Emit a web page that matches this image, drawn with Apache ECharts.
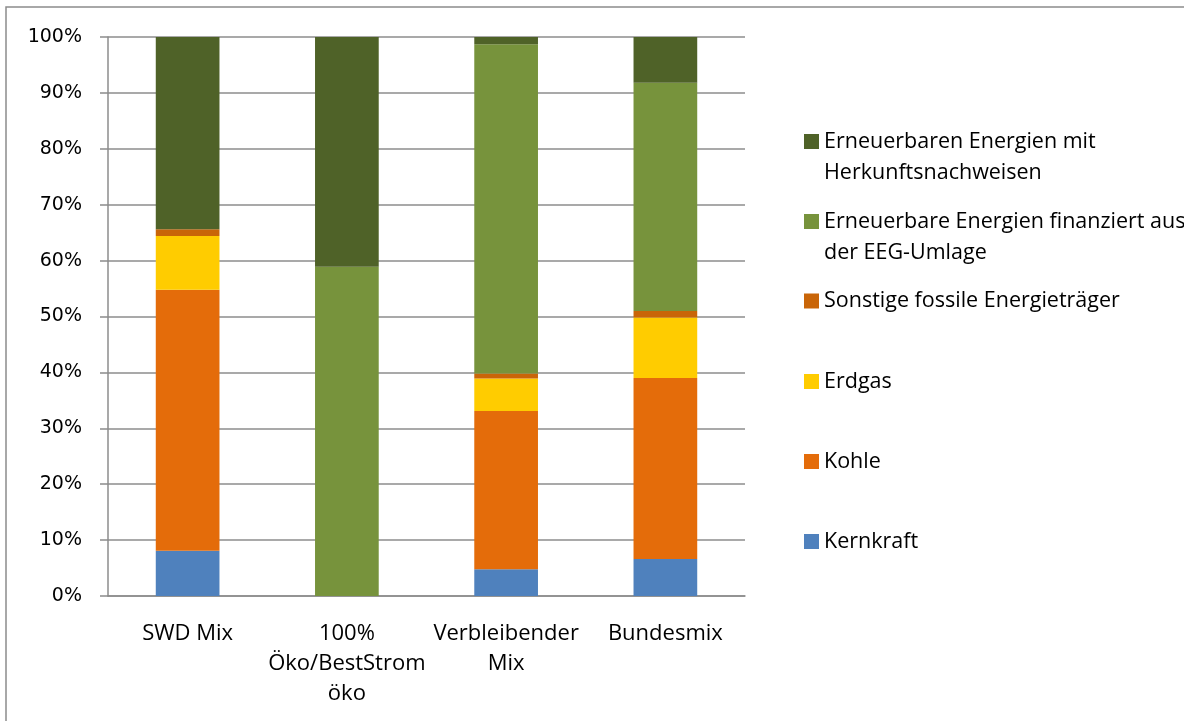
<!DOCTYPE html>
<html>
<head>
<meta charset="utf-8">
<script src="https://cdn.jsdelivr.net/npm/echarts@6/dist/echarts.min.js"></script>
<style>
  html, body { margin: 0; padding: 0; background: #fff; }
  #chart { width: 1184px; height: 721px; }
</style>
</head>
<body>
<div id="chart"></div>
<script>
// Kategorien (x-Achse)
const categories = ['SWD Mix', '100%\nÖko/BestStrom\nöko', 'Verbleibender\nMix', 'Bundesmix'];
const yTicks = [0, 10, 20, 30, 40, 50, 60, 70, 80, 90, 100];

// Anteile in %, von unten nach oben gestapelt
const kernkraft = [8.1, 0, 4.8, 6.6];
const kohle = [46.7, 0, 28.3, 32.4];
const erdgas = [9.6, 0, 5.8, 10.8];
const sonstige = [1.2, 0, 0.9, 1.2];
const eeg = [0, 58.9, 58.9, 40.8];
const hkn = [34.4, 41.1, 1.3, 8.2];

const names = {
  kernkraft: 'Kernkraft',
  kohle: 'Kohle',
  erdgas: 'Erdgas',
  sonstige: 'Sonstige fossile Energieträger',
  eeg: 'Erneuerbare Energien finanziert aus\nder EEG-Umlage',
  hkn: 'Erneuerbaren Energien mit\nHerkunftsnachweisen'
};

const colors = {
  kernkraft: '#4f81bd',
  kohle: '#e46c0a',
  erdgas: '#ffcc00',
  sonstige: '#c96508',
  eeg: '#77933c',
  hkn: '#4f6228'
};

const labelFont = '"Open Sans", "Noto Sans", sans-serif';

const bar = (key, data) => ({
  name: names[key],
  type: 'bar',
  stack: 'mix',
  barWidth: '40%',
  data,
  itemStyle: { color: colors[key] }
});

// eine Legende pro Eintrag, damit die Abstände wie im Original sind
// zweizeilige Einträge: leere Zeile davor, damit das Kästchen auf Höhe der ersten Zeile steht
const legendItem = (key, top, twoLines) => ({
  data: [names[key]],
  left: 804,
  top,
  padding: 0,
  itemWidth: 15,
  itemHeight: 15,
  icon: 'rect',
  selectedMode: false,
  formatter: (name) => (twoLines ? '\n' + name : name),
  textStyle: {
    fontFamily: labelFont,
    fontSize: 21.5,
    color: '#000',
    lineHeight: 31
  }
});

const chart = echarts.init(document.getElementById('chart'));

chart.setOption({
  backgroundColor: '#fff',
  animation: false,
  graphic: [{
    type: 'rect',
    shape: { x: 6, y: 7, width: 1300, height: 900 },
    style: { fill: 'none', stroke: '#8c8c8c', lineWidth: 1.5 },
    silent: true
  }],
  grid: { left: 108, right: 439, top: 37, bottom: 125 },
  legend: [
    legendItem('hkn', 95, true),
    legendItem('eeg', 175, true),
    legendItem('sonstige', 285.5, false),
    legendItem('erdgas', 366, false),
    legendItem('kohle', 446, false),
    legendItem('kernkraft', 526, false)
  ],
  xAxis: {
    type: 'category',
    data: categories,
    axisLine: { lineStyle: { color: '#8c8c8c', width: 1.5 } },
    axisTick: { length: 8, lineStyle: { color: '#8c8c8c', width: 1.5 } },
    axisLabel: {
      margin: 23,
      fontFamily: labelFont,
      fontSize: 22,
      lineHeight: 30,
      color: '#000',
      interval: 0
    }
  },
  yAxis: {
    type: 'value',
    min: yTicks[0],
    max: yTicks[yTicks.length - 1],
    interval: 10,
    axisLine: { show: true, lineStyle: { color: '#8c8c8c', width: 1.5 } },
    axisTick: { show: true, length: 8, lineStyle: { color: '#8c8c8c', width: 1.5 } },
    splitLine: { lineStyle: { color: '#8c8c8c', width: 1.5 } },
    axisLabel: {
      margin: 26,
      formatter: '{value}%',
      fontFamily: '"DejaVu Sans", Verdana, sans-serif',
      fontSize: 19,
      color: '#000'
    }
  },
  series: [
    bar('kernkraft', kernkraft),
    bar('kohle', kohle),
    bar('erdgas', erdgas),
    bar('sonstige', sonstige),
    bar('eeg', eeg),
    bar('hkn', hkn)
  ]
});
</script>
</body>
</html>
